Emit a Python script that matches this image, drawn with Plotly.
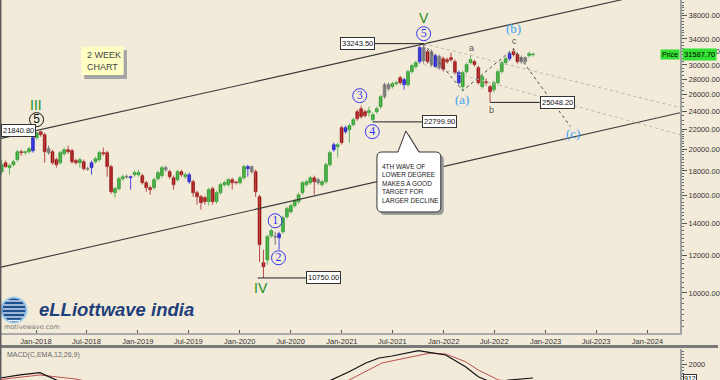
import numpy as np
import pandas as pd
import plotly.graph_objects as go

W, H = 720, 380
BG = "#F3EBDA"

# ---------------- data (2-week candles) ----------------
candle_start = "2017-08-31"
candle_step = "14D"
opens = [17940, 18730, 18290, 18550, 19010, 19750, 19660, 19750, 19850, 21130,
         21750, 21440, 20040, 19750, 19010, 18730, 19560, 19940, 19850, 18920,
         18730, 18820, 18200, 18290, 18820, 19010, 19660, 19660, 18380, 16210,
         16530, 17340, 17510, 17420, 17680, 17680, 17600, 17010, 16610, 16610,
         17340, 17600, 18290, 17940, 17420, 17260, 17940, 17510, 17680, 17090,
         16210, 15900, 15830, 15530, 16530, 15530, 16210, 16850, 16850, 17260,
         17050, 17010, 17420, 18380, 18380, 17940, 15900, 11570, 11730, 13170,
         13120, 13050, 13430, 14440, 14790, 15230, 15530, 16210, 16850, 17010,
         17420, 17010, 16850, 17090, 18550, 19940, 20230, 20630, 22180, 21960,
         22500, 23160, 24300, 23950, 24070, 23050, 23950, 24540, 25750, 27280,
         27020, 27410, 27540, 27950, 27280, 29050, 29760, 30480, 32610, 30480,
         31980, 29760, 31230, 29330, 30770, 31070, 30480, 28910, 27020, 29050,
         30340, 30480, 29610, 27020, 27670, 27020, 26630, 27540, 29050, 30340,
         30920, 31980, 31530, 30480, 31070, 31380, 31530]
highs = [19010, 18920, 18640, 19010, 19940, 19940, 19850, 20230, 21230, 21750,
         21840.8, 21640, 20330, 19940, 19190, 19850, 20140, 20330, 20040, 19100,
         19190, 19010, 18380, 18920, 19280, 19850, 20140, 19850, 18550, 16690,
         17510, 17680, 17680, 17600, 18030, 18110, 17770, 17170, 16770, 17420,
         18030, 18470, 18470, 18110, 17600, 18110, 18110, 17860, 17860, 17260,
         16370, 16050, 15980, 16610, 16690, 16370, 17010, 17170, 17420, 17420,
         17170, 17600, 18550, 18550, 18470, 18110, 16050, 12320, 13240, 13630,
         13430, 13430, 14510, 15160, 15370, 15750, 16210, 17170, 17260, 17600,
         17600, 17420, 17260, 18730, 19850, 20630, 20630, 22400, 22400, 22610,
         23270, 24180, 24660, 24180, 24540, 23840, 24540, 25990, 27540, 27540,
         27670, 27810, 28490, 28220, 29330, 30190, 30630, 32920, 33243.5, 32290,
         32290, 31680, 31530, 31230, 31070, 31830, 30770, 29190, 29190, 30340,
         31530, 30770, 29900, 28630, 28080, 27280, 27810, 29330, 30630, 31230,
         31980, 32450, 31830, 31380, 31230, 31980, 31830]
lows = [17680, 18290, 17680, 18380, 18820, 19370, 19470, 19560, 19660, 20930,
        21230, 18730, 19470, 18550, 18290, 18550, 19370, 19560, 18640, 18550,
        18290, 18030, 18030, 17680, 18640, 18820, 19370, 17510, 16130, 15830,
        16370, 17170, 17340, 16450, 17510, 17510, 16850, 16290, 16050, 16450,
        17170, 17420, 17940, 17340, 16450, 17090, 17510, 17340, 16930, 15900,
        15300, 14940, 15300, 15230, 15300, 15370, 16050, 16690, 16690, 16450,
        16850, 16850, 17260, 17510, 17770, 15900, 11620, 10750, 11460, 13050,
        12620, 12320, 13300, 14300, 14650, 15080, 15370, 16050, 16690, 16850,
        16050, 16850, 16690, 16930, 18380, 19750, 19190, 20430, 21540, 20630,
        22290, 22940, 23160, 23270, 23390, 22799.9, 23720, 24300, 25500, 26500,
        26760, 27150, 27280, 26630, 27020, 28770, 29470, 30190, 30190, 30190,
        29760, 29610, 29330, 29050, 30190, 30480, 28630, 27280, 26500, 28770,
        30050, 29760, 27280, 26760, 27150, 25048.2, 26250, 27280, 28770, 30050,
        30630, 31230, 30190, 30190, 30190, 31070, 31230]
closes = [18550, 18380, 18470, 18820, 19750, 19660, 19750, 20040, 21130, 21640,
          21440, 19750, 19660, 18730, 18550, 19660, 19940, 19750, 18820, 18730,
          19010, 18200, 18150, 18730, 19100, 19660, 19560, 18380, 16290, 16530,
          17340, 17510, 17480, 17510, 17860, 17860, 17010, 16610, 16450, 17260,
          17860, 18290, 18110, 17510, 16850, 17940, 17680, 17680, 17090, 16210,
          15900, 15450, 15530, 16450, 15530, 16210, 16850, 17010, 17260, 17010,
          17010, 17420, 18380, 18200, 17940, 16290, 12620, 11350, 13120, 13500,
          13090, 13300, 14370, 15010, 15230, 15600, 16050, 17010, 17090, 17420,
          17090, 17260, 17090, 18550, 19660, 20430, 20430, 22180, 21750, 22400,
          23050, 23950, 23390, 23500, 23840, 23610, 24300, 25750, 27280, 26760,
          27410, 27540, 28220, 27280, 29050, 29900, 30340, 32610, 30630, 31980,
          30050, 31380, 29610, 30920, 30480, 30770, 28910, 27540, 28910, 30050,
          30770, 30050, 27540, 28350, 27540, 26370, 27540, 29050, 30340, 30920,
          31680, 31530, 30480, 31070, 30480, 31680, 31587.7]
bar_colors = list(
    "grgggrggbg" "rrkrrggrrr" "grkbggrrrg" "ggkbggrrrg" "ggkrrgrgbr"
    "rrrgrggggr" "rggbkrrrgg" "kbgggggggg" "rkgggbgrbg" "grrrggggkk"
    "ggrbgggbkr" "kbkrrrrbgg" "grrgrrgggg" "brrkkgg")

# MACD panel (values below the panel are not visible)
macd_dates = ["2017-08-25", "2017-11-05", "2018-01-15", "2018-03-10", "2018-05-01",
              "2018-09-01", "2019-03-01", "2019-09-01", "2020-04-01", "2020-08-01",
              "2020-11-27", "2021-01-27", "2021-03-28", "2021-05-14", "2021-06-30",
              "2021-08-18", "2021-10-03", "2021-11-15", "2022-01-08", "2022-03-20",
              "2022-05-05", "2022-06-28", "2022-08-21", "2022-11-17"]
macd_vals = [912, 1150, 1324, 757, 300, -200, -100, -500, -2200, -400,
             757, 1402, 2078, 2466, 2622, 2855, 3033, 2878, 2699, 1790,
             1013, 500, 757, 912]
signal_dates = ["2017-08-25", "2017-09-07", "2018-01-15", "2018-05-22", "2018-07-15",
                "2018-12-01", "2019-06-01", "2020-01-01", "2020-06-01", "2020-11-01",
                "2021-01-27", "2021-03-28", "2021-05-25", "2021-08-18", "2021-11-15",
                "2022-01-08", "2022-03-20", "2022-05-05", "2022-07-16", "2022-09-26",
                "2022-11-17"]
signal_vals = [800, 835, 1145, 835, 600, 0, -200, -400, -1500, 0,
               757, 1402, 2078, 2466, 2855, 2777, 2179, 1534, 757, 600, 650]

# Trend / channel lines
chan_x = ["2017-08-25", "2024-04-27"]
chan_upper_y = [21030, 43750]
chan_lower_y = [11310, 23830]
proj_x = ["2021-10-21", "2024-04-27"]
proj_upper_y = [33243.5, 24420]
proj_lower_y = [30050, 21440]
abc_x = ["2021-10-21", "2022-03-10", "2022-09-08", "2023-03-31"]
abc_y = [33243.5, 26500, 32450, 22290]

# Price level markers: (label, line start, line end, price, box side)
levels = [
    ("33243.50", "2021-04-30", "2021-10-21", 33243.5, "right"),
    ("22799.90", "2021-04-22", "2021-10-15", 22799.9, "left"),
    ("10750.00", "2020-03-05", "2020-08-26", 10750.0, "left"),
    ("25048.20", "2022-06-16", "2022-12-11", 25048.2, "left"),
]

# Wave labels
roman_labels = [("III", "2018-01-01", 24770), ("V", "2021-10-22", 37700), ("IV", "2020-03-18", 10240)]
circled_blue = [("5", "2021-10-21", 34880), ("3", "2021-03-06", 25870), ("4", "2021-04-20", 21750),
                ("1", "2020-05-07", 14160), ("2", "2020-05-19", 11850)]
circled_black = [("5", "2018-01-03", 23050)]
paren_labels = [("(a)", "2022-03-08", 25380), ("(b)", "2022-09-08", 35680), ("(c)", "2023-04-09", 21610)]
minor_labels = [("a", "2022-04-09", 32610), ("b", "2022-06-20", 24180), ("c", "2022-09-12", 33720)]

y_ticks = [10000, 12000, 14000, 16000, 18000, 20000, 22000, 24000, 26000, 28000,
           30000, 32000, 34000, 38000]
x_ticks = ["2018-01-01", "2018-07-01", "2019-01-01", "2019-07-01", "2020-01-01", "2020-07-01",
           "2021-01-01", "2021-07-01", "2022-01-01", "2022-07-01", "2023-01-01", "2023-07-01",
           "2024-01-01"]
x_ticktext = ["Jan-2018", "Jul-2018", "Jan-2019", "Jul-2019", "Jan-2020", "Jul-2020",
              "Jan-2021", "Jul-2021", "Jan-2022", "Jul-2022", "Jan-2023", "Jul-2023", "Jan-2024"]
last_price = 31587.70
last_macd = 912

# ---------------- figure ----------------
dates = pd.date_range(candle_start, periods=len(opens), freq=candle_step)
df = pd.DataFrame(dict(d=dates, o=opens, h=highs, l=lows, c=closes, k=bar_colors))
df["lo_body"] = df[["o", "c"]].min(axis=1)
df["hi_body"] = df[["o", "c"]].max(axis=1)
# keep doji bodies visible (at least ~0.6 px tall)
df["hi_body"] = np.maximum(df["hi_body"], df["lo_body"] * 1.003)

style = {
    "g": ("#2DB32D", "#1B7F1B", "#5FB85F"),
    "r": ("#A80606", "#8E1010", "#B84848"),
    "b": ("#2222DD", "#1A1AB0", "#4A4ADD"),
    "k": ("#8E8E8E", "#6A6A6A", "#777777"),
}
body_w = 14 * 86400000 * 0.72

fig = go.Figure()
for key, (fc, lc, wc) in style.items():
    sub = df[df.k == key]
    wx, wy = [], []
    for d, lo, hi in zip(sub.d, sub.l, sub.h):
        wx += [d, d, None]
        wy += [lo, hi, None]
    fig.add_trace(go.Scatter(x=wx, y=wy, mode="lines", line=dict(color=wc, width=1),
                             showlegend=False, hoverinfo="skip"))
for key, (fc, lc, wc) in style.items():
    sub = df[df.k == key]
    fig.add_trace(go.Bar(x=sub.d, base=sub.lo_body, y=sub.hi_body - sub.lo_body,
                         width=body_w, marker=dict(color=fc, line=dict(color=lc, width=0.6)),
                         showlegend=False, hoverinfo="skip"))


def line(x, y, color, width=1, dash="solid", xa="x", ya="y"):
    fig.add_trace(go.Scatter(x=x, y=y, mode="lines", xaxis=xa, yaxis=ya,
                             line=dict(color=color, width=width, dash=dash),
                             showlegend=False, hoverinfo="skip"))


line(chan_x, chan_upper_y, "#3a3a3a", 1.1)
line(chan_x, chan_lower_y, "#3a3a3a", 1.1)
line(proj_x, proj_upper_y, "#BDB5A6", 1, "dot")
line(proj_x, proj_lower_y, "#BDB5A6", 1, "dot")
line(abc_x, abc_y, "#4a4a4a", 1, "dot")
for lab, xa0, xa1, pr, side in levels:
    line([xa0, xa1], [pr, pr], "#222222", 1)

# MACD lines
line(signal_dates, signal_vals, "#C0504D", 1, xa="x2", ya="y2")
line(macd_dates, macd_vals, "#111111", 1.2, xa="x2", ya="y2")

# circled wave numbers
for labs, col, fam in [(circled_blue, "#3434F0", "Liberation Serif"),
                       (circled_black, "#111111", "Liberation Sans")]:
    fig.add_trace(go.Scatter(
        x=[d for _, d, _ in labs], y=[p for _, _, p in labs], text=[t for t, _, _ in labs],
        mode="markers+text", textposition="middle center",
        textfont=dict(family=fam, size=12, color=col),
        marker=dict(symbol="circle", size=14, color="rgba(0,0,0,0)",
                    line=dict(color=col, width=1)),
        showlegend=False, hoverinfo="skip"))

ann = []
for t, d, p in roman_labels:
    ann.append(dict(x=d, y=np.log10(p), xref="x", yref="y", text=t, showarrow=False,
                    font=dict(family="Liberation Sans", size=14, color="#1E8C1E")))
for t, d, p in paren_labels:
    ann.append(dict(x=d, y=np.log10(p), xref="x", yref="y", text=t, showarrow=False,
                    font=dict(family="Liberation Serif", size=13, color="#3AA3F0")))
for t, d, p in minor_labels:
    ann.append(dict(x=d, y=np.log10(p), xref="x", yref="y", text=t, showarrow=False,
                    font=dict(family="Liberation Sans", size=9, color="#555555")))

box_font = dict(family="Liberation Sans", size=7.5, color="#111111")
for lab, xa0, xa1, pr, side in levels:
    if side == "right":
        ann.append(dict(x=xa0, y=np.log10(pr), xref="x", yref="y", text=lab, showarrow=False,
                        xanchor="right", bgcolor="white", bordercolor="#333", borderwidth=1,
                        borderpad=1, font=box_font))
    else:
        ann.append(dict(x=xa1, y=np.log10(pr), xref="x", yref="y", text=lab, showarrow=False,
                        xanchor="left", bgcolor="white", bordercolor="#333", borderwidth=1,
                        borderpad=1, font=box_font))
ann.append(dict(x=1 / W, y=np.log10(21840.8), xref="paper", yref="y", text="21840.80",
                showarrow=False, xanchor="left", bgcolor="white", bordercolor="#333",
                borderwidth=1, borderpad=1, font=box_font))

# price labels on the right
ann.append(dict(x=662 / W, y=np.log10(last_price), xref="paper", yref="y", text="Price",
                showarrow=False, xanchor="left", bgcolor="#33E033", borderpad=1,
                font=dict(family="Liberation Sans", size=7, color="#000")))
ann.append(dict(x=684 / W, y=np.log10(last_price), xref="paper", yref="y",
                text=f"{last_price:.2f}", showarrow=False, xanchor="left", bgcolor="#33E033",
                borderpad=1, font=dict(family="Liberation Sans", size=7.5, color="#000")))
ann.append(dict(x=685 / W, y=last_macd, xref="paper", yref="y2", text=str(last_macd),
                showarrow=False, xanchor="left", bgcolor="white", bordercolor="#333",
                borderwidth=1, borderpad=0, font=dict(family="Liberation Sans", size=7, color="#000")))


def pp(x, y):
    return f"{x / W:.5f},{1 - y / H:.5f}"


def pxy(x, y):
    return x / W, 1 - y / H


# Text boxes
ann.append(dict(x=85 / W, y=1 - 61 / H, xref="paper", yref="paper", xanchor="left",
                yanchor="middle", align="left", text="2 WEEK<br>CHART", showarrow=False,
                font=dict(family="Liberation Sans", size=9, color="#444")))
ann.append(dict(x=381 / W, y=1 - 183 / H, xref="paper", yref="paper", xanchor="left",
                yanchor="middle", align="left", showarrow=False,
                text="4TH WAVE OF<br>LOWER DEGREE<br>MAKES A GOOD<br>TARGET FOR<br>LARGER DECLINE",
                font=dict(family="Liberation Sans", size=6.5, color="#222")))
ann.append(dict(x=5 / W, y=1 - 355 / H, xref="paper", yref="paper", xanchor="left",
                yanchor="middle", text="MACD(C,EMA,12,26,9)", showarrow=False,
                font=dict(family="Liberation Sans", size=7, color="#666")))
ann.append(dict(x=37 / W, y=1 - 309 / H, xref="paper", yref="paper", xanchor="left",
                yanchor="middle", text="<b><i>eLLiottwave india</i></b>", showarrow=False,
                font=dict(family="Liberation Sans", size=18.5, color="#1E3F7A")))
ann.append(dict(x=2 / W, y=1 - 327 / H, xref="paper", yref="paper", xanchor="left",
                yanchor="middle", text="motivewave.com", showarrow=False,
                font=dict(family="DejaVu Sans", size=6.5, color="#777")))

shapes = []
# 2 week box
x0, y0 = pxy(84.5, 50)
x1, y1 = pxy(127.3, 79)
shapes.append(dict(type="rect", xref="paper", yref="paper", x0=x0, y0=y0, x1=x1, y1=y1,
                   fillcolor="#A5A5A5", line=dict(width=0), layer="above"))
x0, y0 = pxy(81.7, 46.7)
x1, y1 = pxy(124, 75)
shapes.append(dict(type="rect", xref="paper", yref="paper", x0=x0, y0=y0, x1=x1, y1=y1,
                   fillcolor="#FFFFC4", line=dict(width=0), layer="above"))


def callout(dx, dy):
    pts = [(383, 152), (399, 152), (407, 131), (420, 152), (437, 152)]
    s = "M" + pp(383 + dx, 152 + dy)
    for (a, b) in pts[1:]:
        s += " L" + pp(a + dx, b + dy)
    s += " Q" + pp(442 + dx, 152 + dy) + " " + pp(442 + dx, 157 + dy)
    s += " L" + pp(442 + dx, 207 + dy)
    s += " Q" + pp(442 + dx, 212 + dy) + " " + pp(437 + dx, 212 + dy)
    s += " L" + pp(383 + dx, 212 + dy)
    s += " Q" + pp(378 + dx, 212 + dy) + " " + pp(378 + dx, 207 + dy)
    s += " L" + pp(378 + dx, 157 + dy)
    s += " Q" + pp(378 + dx, 152 + dy) + " " + pp(383 + dx, 152 + dy) + " Z"
    return s


shapes.append(dict(type="path", xref="paper", yref="paper", path=callout(3, 3),
                   fillcolor="#9C9C9C", line=dict(width=0), layer="above"))
shapes.append(dict(type="path", xref="paper", yref="paper", path=callout(0, 0),
                   fillcolor="white", line=dict(color="#333", width=1), layer="above"))

# logo globe
cx, cy, r = 14, 310, 12.5
x0, y0 = pxy(cx - r, cy + r)
x1, y1 = pxy(cx + r, cy - r)
shapes.append(dict(type="circle", xref="paper", yref="paper", x0=x0, y0=y0, x1=x1, y1=y1,
                   fillcolor="#1D4F91", line=dict(color="#9CCBEA", width=2)))
for yy in [301, 305, 309, 313, 317, 320.5]:
    half = np.sqrt(max(r * r - (yy - cy) ** 2, 0)) * 0.9
    ax0, ay = pxy(cx - half, yy)
    ax1, _ = pxy(cx + half, yy)
    shapes.append(dict(type="line", xref="paper", yref="paper", x0=ax0, y0=ay, x1=ax1, y1=ay,
                       line=dict(color="#E8F2FA", width=1.3)))

# separators / frame
_, ys = pxy(0, 346.5)
shapes.append(dict(type="line", xref="paper", yref="paper", x0=0, y0=ys, x1=1, y1=ys,
                   line=dict(color="#7A7A7A", width=3)))
shapes.append(dict(type="line", xref="paper", yref="paper", x0=0.7 / W, y0=0, x1=0.7 / W, y1=1,
                   line=dict(color="#5A5A5A", width=1.5)))

minor_vals = [v for v in range(8500, 22000, 250)] + [v for v in range(22000, 41000, 500)]

fig.update_layout(
    width=W, height=H, autosize=False,
    margin=dict(l=0, r=0, t=0, b=0),
    paper_bgcolor=BG, plot_bgcolor=BG,
    showlegend=False, barmode="overlay",
    annotations=ann, shapes=shapes,
    xaxis=dict(domain=[0, 682 / W], type="date", range=["2017-08-25", "2024-04-27"],
               anchor="y", showgrid=False, zeroline=False,
               tickvals=x_ticks, ticktext=x_ticktext, ticks="inside", ticklen=3,
               tickcolor="#555", showline=True, linecolor="#ABABAB", linewidth=2,
               tickfont=dict(family="Liberation Sans", size=7.5, color="#333")),
    yaxis=dict(domain=[1 - 333 / H, 1], type="log",
               range=[np.log10(8246), np.log10(41020)], side="right", anchor="x",
               showgrid=False, zeroline=False, tickvals=y_ticks,
               ticktext=[f"{v:.2f}" for v in y_ticks], ticks="outside", ticklen=5,
               tickcolor="#555", showline=True, linecolor="#A0A0A0", linewidth=2,
               tickfont=dict(family="Liberation Sans", size=7.5, color="#333"),
               minor=dict(tickvals=minor_vals, ticklen=2, tickcolor="#666", ticks="outside")),
    xaxis2=dict(domain=[0, 682 / W], matches="x", anchor="y2", showticklabels=False,
                showgrid=False, zeroline=False, ticks="", showline=False),
    yaxis2=dict(domain=[0, 1 - 349 / H], range=[757, 3166], side="right", anchor="x2",
                showgrid=False, zeroline=False, tickvals=[2000], ticktext=["2000"],
                ticks="outside", ticklen=5, tickcolor="#555", showline=True,
                linecolor="#A0A0A0", linewidth=2,
                tickfont=dict(family="Liberation Sans", size=7.5, color="#333"),
                minor=dict(tickvals=[1000, 1250, 1500, 1750, 2250, 2500, 2750, 3000],
                           ticklen=2, tickcolor="#666", ticks="outside")),
)

fig.write_html("out.html")
